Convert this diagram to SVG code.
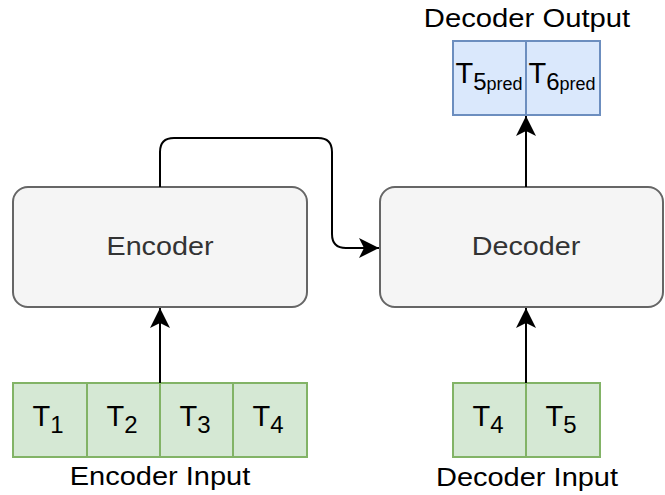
<svg xmlns="http://www.w3.org/2000/svg" width="665" height="495" viewBox="0 0 665 495">
<defs>
<marker id="arr" viewBox="0 0 20 20" refX="20" refY="10" markerWidth="20" markerHeight="20" markerUnits="userSpaceOnUse" orient="auto">
<path d="M0,0 L20,10 L0,20 L5,10 Z" fill="#000"/>
</marker>
<style>
.box{fill:#f5f5f5;stroke:#666;stroke-width:2}
.g{fill:#d5e8d4;stroke:#82b366;stroke-width:2}
.b{fill:#dae8fc;stroke:#6c8ebf;stroke-width:2}
.lbl{font-family:"Liberation Sans",Arial,sans-serif;font-size:25px;fill:#333;text-anchor:middle}
.cap{font-family:"Liberation Sans",Arial,sans-serif;font-size:25px;fill:#000;text-anchor:middle}
.t{font-family:"Liberation Sans",Arial,sans-serif;font-size:29px;fill:#000;text-anchor:middle}
.s{font-size:24px}
.p{font-size:18px}
.c{fill:none;stroke:#000;stroke-width:2}
</style>
</defs>
<rect width="665" height="495" fill="#fff"/>
<g id="encoder"><rect class="box" x="13" y="187" width="294" height="120" rx="15"/><text class="lbl" transform="translate(160,255) scale(1.15,1)">Encoder</text></g>
<g id="decoder"><rect class="box" x="380" y="187" width="283" height="120" rx="15"/><text class="lbl" transform="translate(526,255) scale(1.15,1)">Decoder</text></g>
<g id="encoder-input">
<rect class="g" x="13" y="383" width="74" height="74"/><rect class="g" x="87" y="383" width="73" height="74"/><rect class="g" x="160" y="383" width="73" height="74"/><rect class="g" x="233" y="383" width="74" height="74"/>
<text class="t" x="48" y="426">T<tspan class="s" dy="7">1</tspan></text>
<text class="t" x="122" y="426">T<tspan class="s" dy="7">2</tspan></text>
<text class="t" x="195" y="426">T<tspan class="s" dy="7">3</tspan></text>
<text class="t" x="268" y="426">T<tspan class="s" dy="7">4</tspan></text>
<text class="cap" transform="translate(160,485) scale(1.16,1)">Encoder Input</text>
</g>
<g id="decoder-input">
<rect class="g" x="453" y="383" width="73" height="74"/><rect class="g" x="526" y="383" width="74" height="74"/>
<text class="t" x="488" y="426">T<tspan class="s" dy="7">4</tspan></text>
<text class="t" x="561" y="426">T<tspan class="s" dy="7">5</tspan></text>
<text class="cap" transform="translate(527,486) scale(1.16,1)">Decoder Input</text>
</g>
<g id="decoder-output">
<rect class="b" x="453" y="41" width="73" height="74"/><rect class="b" x="526" y="41" width="74" height="74"/>
<text class="t" x="489" y="83">T<tspan class="s" dy="7">5</tspan><tspan class="p">pred</tspan></text>
<text class="t" x="562" y="83">T<tspan class="s" dy="7">6</tspan><tspan class="p">pred</tspan></text>
<text class="cap" transform="translate(527,27) scale(1.17,1)">Decoder Output</text>
</g>
<g id="connectors">
<path class="c" d="M160,383 L160,308" marker-end="url(#arr)"/>
<path class="c" d="M526,383 L526,308" marker-end="url(#arr)"/>
<path class="c" d="M526,187 L526,116" marker-end="url(#arr)"/>
<path class="c" d="M160,187 L160,152 Q160,138 174,138 L318,138 Q332,138 332,152 L332,234 Q332,248 346,248 L379,248" marker-end="url(#arr)"/>
</g>
</svg>
